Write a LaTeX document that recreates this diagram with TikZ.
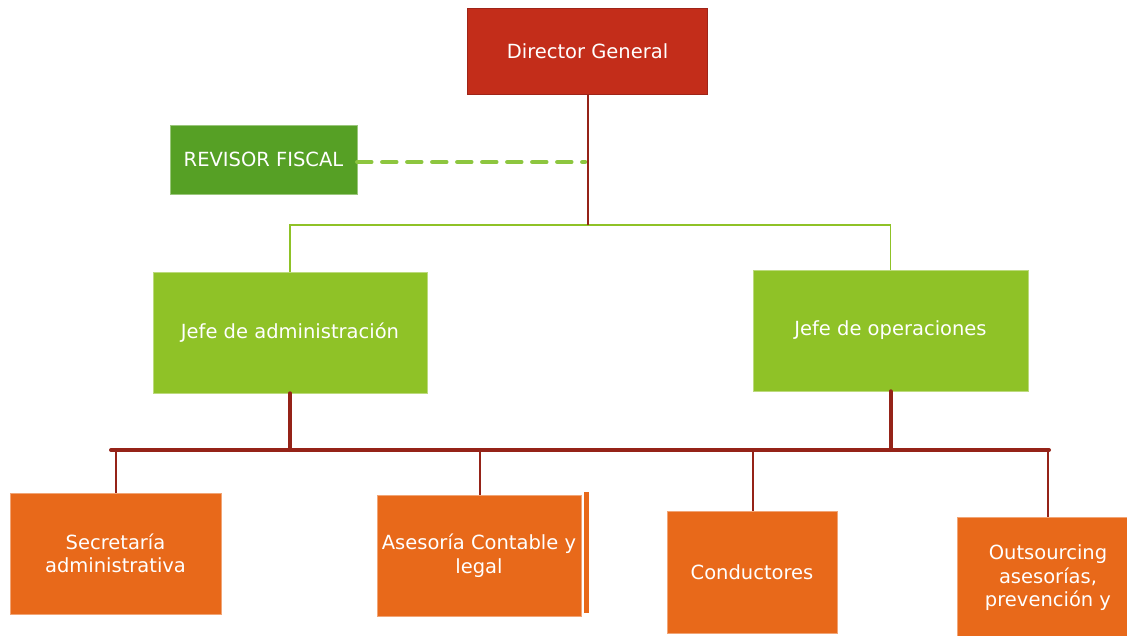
\documentclass[tikz,border=0pt]{standalone}
\usepackage{fontspec}
\setmainfont{DejaVu Sans}
\definecolor{dgred}{HTML}{C32D1A}
\definecolor{dgborder}{HTML}{9E2418}
\definecolor{rfgreen}{HTML}{56A025}
\definecolor{jgreen}{HTML}{8FC227}
\definecolor{borange}{HTML}{E8691A}
\definecolor{lred}{HTML}{952318}
\definecolor{dgreen}{HTML}{8DC63F}
\tikzset{
  box/.style={rectangle, text=white, align=center, inner sep=2pt, font=\fontsize{19.5}{23.5}\selectfont},
  topbox/.style={box, fill=dgred, draw=dgborder, line width=1.5pt},
  rfbox/.style={box, fill=rfgreen, draw=rfgreen!60!white, line width=0.6pt},
  jbox/.style={box, fill=jgreen, draw=jgreen!60!white, line width=0.6pt},
  obox/.style={box, fill=borange, draw=borange!60!white, line width=0.6pt},
  redline/.style={draw=lred, line width=2pt},
  thickred/.style={draw=lred, line width=4pt, line cap=round},
  greenline/.style={draw=jgreen, line width=1.5pt},
  dashline/.style={draw=dgreen, line width=4.5pt, dash pattern=on 14pt off 11pt, line cap=round},
}
\begin{document}
\begin{tikzpicture}[x=1pt,y=-1pt]
\useasboundingbox (0,0) rectangle (1127,636);
% nodes
\node[topbox, minimum width=240pt, minimum height=86pt] (dg) at (587.5,51.5) {Director General};
\node[rfbox, minimum width=187pt, minimum height=69pt] (rf) at (263.5,159.5) {REVISOR FISCAL};
\node[jbox, minimum width=274pt, minimum height=121pt] (ja) at (290,332.5) {Jefe de administración};
\node[jbox, minimum width=275pt, minimum height=121pt] (jo) at (890.5,330.5) {Jefe de operaciones};
\node[obox, minimum width=211pt, minimum height=121pt] (sec) at (115.5,553.5) {Secretaría\\administrativa};
\node[obox, minimum width=204pt, minimum height=121pt] (ase) at (479,555.5) {Asesoría Contable y\\legal};
\fill[borange] (584,492) rectangle (589,613);
\node[obox, minimum width=170pt, minimum height=122pt] (con) at (752,572) {Conductores};
\node[obox, minimum width=182pt, minimum height=122pt] (out) at (1048,578) {Outsourcing\\asesorías,\\prevención y};
% junctions
\coordinate (j) at (587.5,225);
\coordinate (rfj) at (585,162);
\coordinate (bl) at (111,450);
\coordinate (br) at (1049,450);
\coordinate (dsec) at (116,450);
\coordinate (dase) at (480,450);
\coordinate (dcon) at (753,450);
\coordinate (dout) at (1048,450);
% connectors
\draw[dashline] (rf.east |- rfj) -- (rfj);
\draw[greenline] (ja.north) |- (j) -| (jo.north);
\draw[redline] (dg.south) -- (j);
\draw[thickred] (bl) -- (br);
\draw[thickred] (ja.south) -- (ja.south |- bl);
\draw[thickred] (jo.south) -- (jo.south |- bl);
\draw[redline] (dsec) -- (dsec |- sec.north);
\draw[redline] (dase) -- (dase |- ase.north);
\draw[redline] (dcon) -- (dcon |- con.north);
\draw[redline] (dout) -- (out.north);
\end{tikzpicture}
\end{document}
